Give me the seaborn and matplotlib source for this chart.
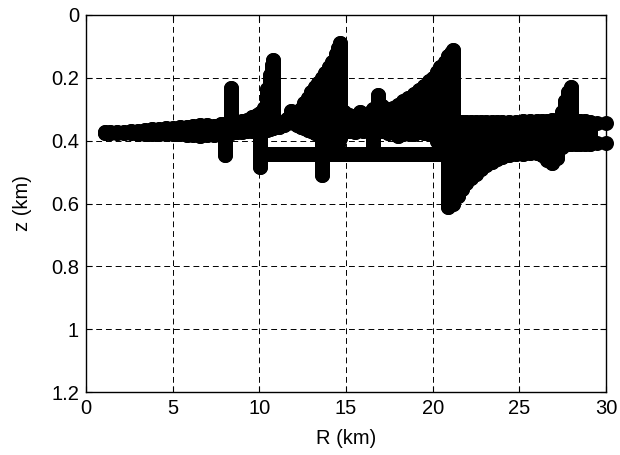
import numpy as np
import pandas as pd
import matplotlib
matplotlib.use("Agg")
import matplotlib.pyplot as plt
import seaborn as sns

# Dense point cloud read as vertical columns: range R (km), shallowest and deepest z (km)
col_R = [1.07, 1.4, 1.8, 2.2, 2.6, 3.0, 3.4, 3.8, 4.2, 4.6, 5.0, 5.4, 5.8, 6.2, 6.6, 7.0, 7.4, 7.8,
         8.02, 8.37, 8.7, 9.0, 9.3, 9.6, 9.85, 10.04, 10.25, 10.45, 10.6, 10.72, 10.8,
         11.15, 11.4, 11.6, 11.8, 12.0, 12.2, 12.4, 12.6, 12.8, 13.0, 13.2, 13.4, 13.62,
         13.8, 14.0, 14.2, 14.4, 14.55, 14.65,
         14.9, 15.2, 15.5, 15.8, 16.0, 16.3, 16.55, 16.85, 17.1, 17.4, 17.7, 18.0, 18.3,
         18.6, 18.9, 19.2, 19.5, 19.8, 20.0, 20.25, 20.45, 20.7, 20.9, 21.05, 21.18,
         21.45, 21.7, 21.95, 22.2, 22.5, 22.8, 23.1, 23.4, 23.7, 24.0, 24.4, 24.8, 25.2,
         25.6, 26.0, 26.3, 26.6, 26.9, 27.2, 27.45, 27.65, 27.82, 27.98,
         28.25, 28.5, 28.8, 29.05]
col_top = [0.373, 0.372, 0.372, 0.371, 0.369, 0.368, 0.366, 0.364, 0.362, 0.361, 0.359, 0.358, 0.356,
           0.354, 0.350, 0.351, 0.352, 0.348,
           0.346, 0.231, 0.342, 0.338, 0.333, 0.326, 0.318, 0.312, 0.295, 0.235, 0.190, 0.160, 0.143,
           0.345, 0.342, 0.330, 0.305, 0.310, 0.310, 0.300, 0.280, 0.265, 0.245, 0.230, 0.215, 0.200,
           0.185, 0.165, 0.150, 0.125, 0.105, 0.089,
           0.310, 0.318, 0.320, 0.310, 0.315, 0.312, 0.300, 0.256, 0.290, 0.300, 0.295, 0.285, 0.275,
           0.265, 0.252, 0.240, 0.225, 0.210, 0.200, 0.182, 0.165, 0.150, 0.130, 0.120, 0.111,
           0.342, 0.342, 0.342, 0.342, 0.342, 0.342, 0.342, 0.342, 0.342, 0.341, 0.340, 0.340, 0.338,
           0.338, 0.338, 0.338, 0.338, 0.335, 0.335, 0.310, 0.275, 0.245, 0.230,
           0.336, 0.337, 0.338, 0.340]
col_bot = [0.375, 0.376, 0.376, 0.377, 0.377, 0.378, 0.378, 0.378, 0.379, 0.379, 0.380, 0.380, 0.381,
           0.382, 0.384, 0.383, 0.381, 0.379,
           0.447, 0.376, 0.373, 0.371, 0.370, 0.369, 0.368, 0.485, 0.367, 0.365, 0.362, 0.360, 0.360,
           0.355, 0.350, 0.345, 0.340, 0.345, 0.350, 0.355, 0.360, 0.365, 0.370, 0.375, 0.378, 0.508,
           0.383, 0.387, 0.390, 0.441, 0.410, 0.390,
           0.370, 0.370, 0.372, 0.365, 0.370, 0.370, 0.441, 0.360, 0.370, 0.375, 0.370, 0.385, 0.380,
           0.375, 0.380, 0.372, 0.375, 0.378, 0.380, 0.400, 0.441, 0.441, 0.610, 0.600, 0.600,
           0.575, 0.555, 0.535, 0.520, 0.505, 0.490, 0.477, 0.467, 0.458, 0.452, 0.447, 0.444, 0.442,
           0.440, 0.440, 0.447, 0.460, 0.470, 0.455, 0.420, 0.410, 0.410, 0.410,
           0.410, 0.410, 0.410, 0.410]

# Deeper horizontal layer of points
layer_R = [10.04, 20.9]
layer_z = [0.441, 0.441]

# Separate points at the right end
end_R = [29.5, 30.0, 29.5, 30.0]
end_z = [0.344, 0.344, 0.407, 0.407]

x_ticks = [0, 5, 10, 15, 20, 25, 30]
x_labels = ["0", "5", "10", "15", "20", "25", "30"]
y_ticks = [0, 0.2, 0.4, 0.6, 0.8, 1.0, 1.2]
y_labels = ["0", "0.2", "0.4", "0.6", "0.8", "1", "1.2"]

sns.set_theme(style="white")
plt.rcParams["font.family"] = ["Liberation Sans", "DejaVu Sans"]

fig = plt.figure(figsize=(6.2, 4.55), dpi=100)
ax = fig.add_axes([86 / 620, 1 - 392 / 455, 520 / 620, 377 / 455])

lw = 10.8  # marker diameter in points (about 15 px)

lc = ax.vlines(col_R, col_top, col_bot, colors="black", linewidth=lw, zorder=3)
lc.set_capstyle("round")
ax.plot(layer_R, layer_z, color="black", lw=lw, solid_capstyle="round", zorder=3)

pts = pd.DataFrame({"R": col_R + col_R + end_R,
                    "z": col_top + col_bot + end_z})
sns.scatterplot(data=pts, x="R", y="z", ax=ax, color="black", s=lw ** 2,
                edgecolor="black", linewidth=0, zorder=4, clip_on=False, legend=False)

ax.set_xlim(0, 30)
ax.set_ylim(1.2, 0)
ax.set_xticks(x_ticks)
ax.set_xticklabels(x_labels)
ax.set_yticks(y_ticks)
ax.set_yticklabels(y_labels)

ax.grid(True, color="black", linestyle=(0, (6, 4)), linewidth=0.7, zorder=1)
ax.set_axisbelow(True)
for s in ax.spines.values():
    s.set_visible(True)
    s.set_color("black")
    s.set_linewidth(1.0)
    s.set_zorder(5)

ax.tick_params(axis="both", which="both", direction="in", length=4, width=0.8,
               colors="black", labelsize=14.5, top=True, right=True,
               bottom=True, left=True, pad=5)

ax.set_xlabel("R (km)", fontsize=14.5, color="black", labelpad=8)
ax.set_ylabel("z (km)", fontsize=14.5, color="black", labelpad=14)

fig.savefig("out.png", dpi=100, facecolor="white")
